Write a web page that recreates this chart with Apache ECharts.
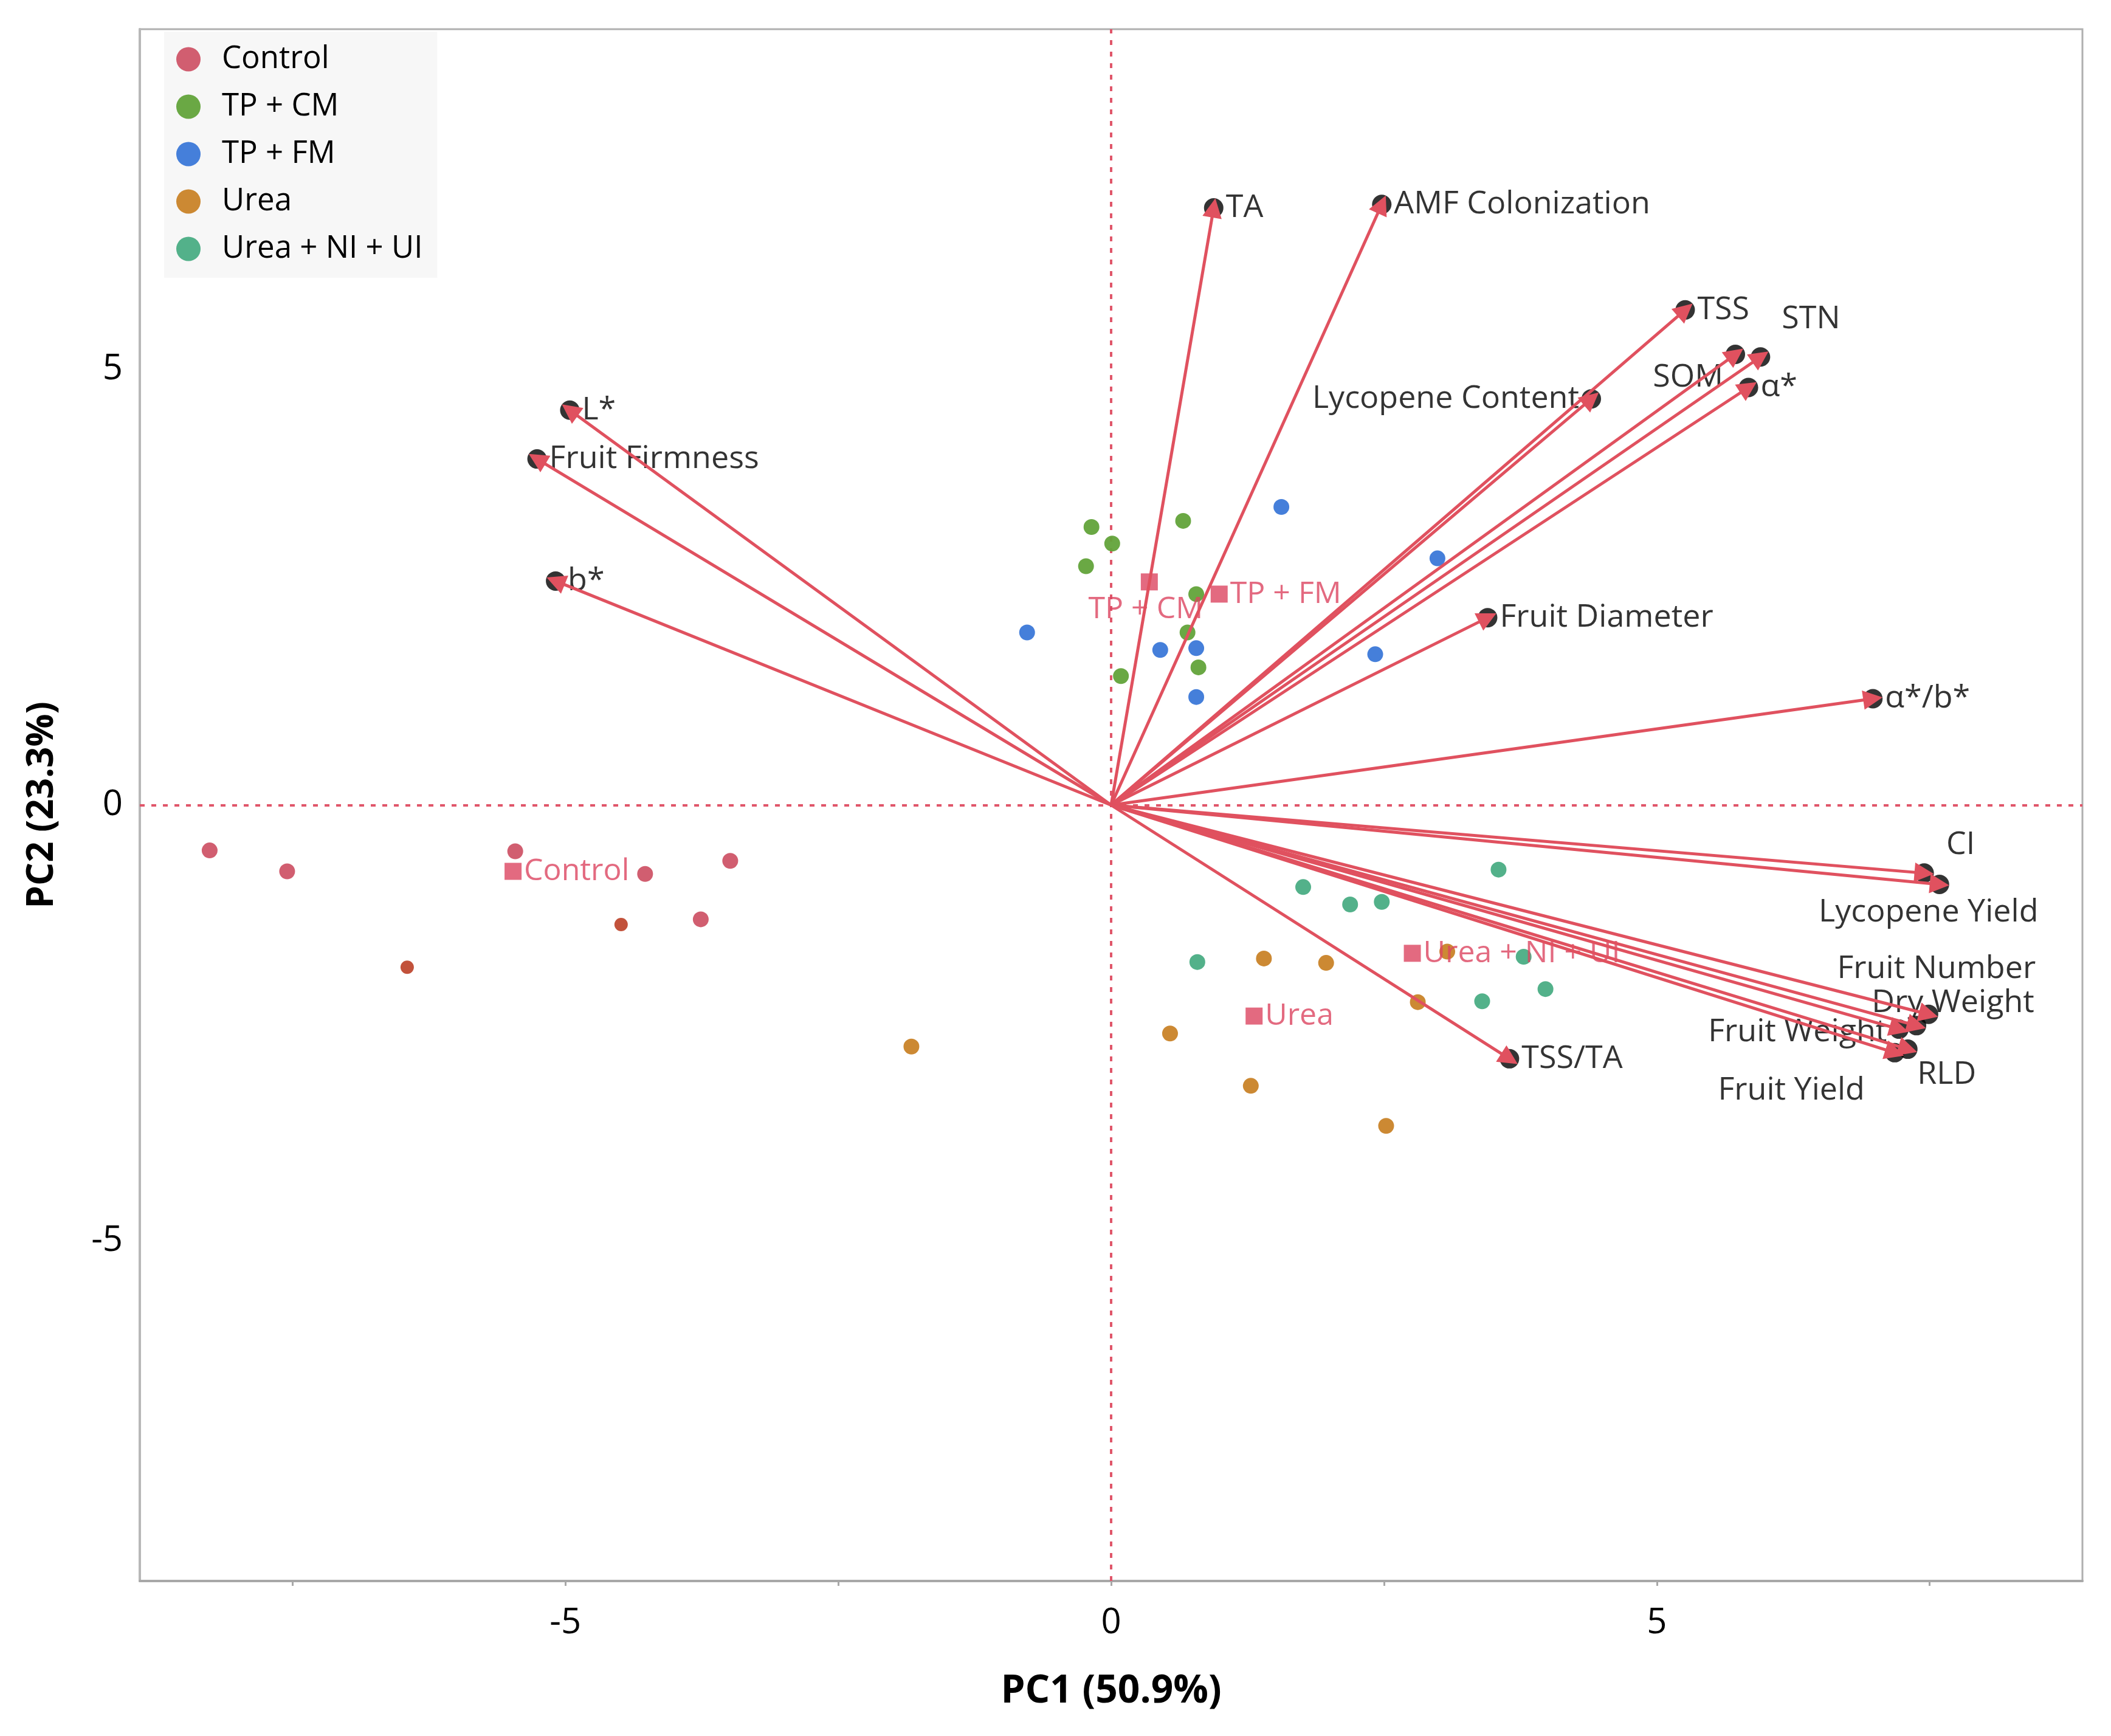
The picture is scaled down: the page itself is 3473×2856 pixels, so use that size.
<!DOCTYPE html>
<html>
<head>
  <meta charset="UTF-8">
  <title>PCA biplot</title>
  <script src="https://cdn.jsdelivr.net/npm/echarts@6.0.0/dist/echarts.min.js"></script>
  <style>
    html, body { margin: 0; padding: 0; background: #fff; }
    #main { width: 3473px; height: 2856px; }
  </style>
</head>
<body>
<div id="main"></div>
<script type="text/javascript">
  // group names (legend order)
  var groupNames = ['Control', 'TP + CM', 'TP + FM', 'Urea', 'Urea + NI + UI'];

  // sample scores [PC1, PC2]
  var controlPts = [[-8.26, -0.52], [-7.55, -0.76], [-5.46, -0.53], [-4.27, -0.79], [-3.49, -0.64], [-3.76, -1.31]];
  var controlDarkPts = [[-4.49, -1.37], [-6.45, -1.86]];
  var tpcmPts = [[-0.18, 3.19], [0.66, 3.26], [0.01, 3.00], [-0.23, 2.74], [0.78, 2.42], [0.70, 1.98], [0.80, 1.58], [0.09, 1.48]];
  var tpfmPts = [[1.56, 3.42], [2.99, 2.83], [2.42, 1.73], [0.45, 1.78], [0.78, 1.80], [0.78, 1.24], [-0.77, 1.98]];
  var ureaPts = [[1.40, -1.76], [1.97, -1.81], [3.08, -1.68], [2.81, -2.26], [0.54, -2.62], [1.28, -3.22], [2.52, -3.68], [-1.83, -2.77]];
  var ureaNiUiPts = [[3.55, -0.74], [1.76, -0.94], [2.19, -1.14], [2.48, -1.11], [0.79, -1.80], [3.78, -1.74], [3.98, -2.11], [3.40, -2.25]];

  // group centroids
  var centroidX = [-5.48, 0.35, 0.99, 1.31, 2.76];
  var centroidY = [-0.76, 2.56, 2.42, -2.42, -1.70];

  // variable loadings (arrow tips)
  var varNames = ['L*', 'Fruit Firmness', 'b*', 'TA', 'AMF Colonization', 'TSS', 'STN', 'SOM', 'α*',
    'Lycopene Content', 'Fruit Diameter', 'α*/b*', 'CI', 'Lycopene Yield', 'Fruit Number', 'Dry Weight',
    'Fruit Weight', 'RLD', 'Fruit Yield', 'TSS/TA'];
  var varX = [-4.96, -5.26, -5.09, 0.94, 2.48, 5.26, 5.95, 5.72, 5.84,
    4.40, 3.45, 6.98, 7.45, 7.59, 7.49, 7.38,
    7.22, 7.30, 7.18, 3.65];
  var varY = [4.53, 3.97, 2.57, 6.85, 6.89, 5.68, 5.14, 5.17, 4.79,
    4.66, 2.15, 1.22, -0.78, -0.91, -2.40, -2.53,
    -2.57, -2.80, -2.84, -2.91];

  var axisMin = -8.9, axisMax = 8.9;
  var tickLabels = [-5, 0, 5];
  var xMinorTicks = [-7.5, -5, -2.5, 0, 2.5, 5, 7.5];

  // label placement for the variable names
  var varLabelPlace = {
    'STN': { position: 'right', offset: [15, -62] },
    'SOM': { position: 'left', offset: [0, 38] },
    'Lycopene Content': { position: 'left' },
    'CI': { position: 'top', offset: [60, 0] },
    'Lycopene Yield': { position: 'bottom', offset: [-18, 0] },
    'Fruit Number': { position: 'top', offset: [13, -29] },
    'Dry Weight': { position: 'top', offset: [60, 9] },
    'Fruit Weight': { position: 'left', offset: [0, 5] },
    'RLD': { position: 'bottom', offset: [64, -4] },
    'Fruit Yield': { position: 'bottom', offset: [-170, 16] }
  };
  var centroidLabelPlace = {
    'TP + CM': { position: 'bottom', offset: [-6, 2] }
  };

  var groupColors = ['#cf5568', '#62a33a', '#3b78d8', '#c98328', '#4aad84'];
  var arrowColor = '#e0515f';
  var centroidColor = '#dc4560';
  var fontFam = '"Open Sans", "Noto Sans", sans-serif';

  var groupData = [controlPts, tpcmPts, tpfmPts, ureaPts, ureaNiUiPts];

  var series = [];
  groupNames.forEach(function(name, i) {
    series.push({
      name: name,
      type: 'scatter',
      data: groupData[i],
      symbolSize: 26,
      itemStyle: { color: groupColors[i], opacity: 0.95 },
      z: 2
    });
  });
  series.push({
    name: 'Control-dark',
    type: 'scatter',
    data: controlDarkPts,
    symbolSize: 22,
    itemStyle: { color: '#b3270a' },
    z: 2
  });

  // centroids
  series.push({
    name: 'centroids',
    type: 'scatter',
    symbol: 'rect',
    symbolSize: 28,
    itemStyle: { color: centroidColor },
    z: 3,
    label: {
      show: true, position: 'right', distance: 4, color: centroidColor,
      fontSize: 50, fontFamily: fontFam, formatter: '{b}'
    },
    data: groupNames.map(function(n, i) {
      var d = { name: n, value: [centroidX[i], centroidY[i]] };
      if (centroidLabelPlace[n]) d.label = centroidLabelPlace[n];
      return d;
    })
  });

  // black dots at tips + labels, also carries the zero lines
  series.push({
    name: 'vars',
    type: 'scatter',
    symbolSize: 32,
    itemStyle: { color: '#000' },
    z: 3,
    label: {
      show: true, position: 'right', distance: 4, color: '#000',
      fontSize: 52, fontFamily: fontFam, formatter: '{b}'
    },
    data: varNames.map(function(n, i) {
      var d = { name: n, value: [varX[i], varY[i]] };
      if (varLabelPlace[n]) d.label = varLabelPlace[n];
      return d;
    }),
    markLine: {
      silent: true,
      symbol: 'none',
      label: { show: false },
      lineStyle: { color: '#e0566a', type: [8, 11], width: 4 },
      z: 1,
      data: [{ xAxis: 0 }, { yAxis: 0 }]
    }
  });

  // arrows from origin
  series.push({
    name: 'arrows',
    type: 'lines',
    coordinateSystem: 'cartesian2d',
    symbol: ['none', 'triangle'],
    symbolSize: 32,
    z: 4,
    lineStyle: { color: arrowColor, width: 5, opacity: 1 },
    data: varNames.map(function(n, i) {
      return { coords: [[0, 0], [varX[i], varY[i]]] };
    })
  });

  var option = {
    animation: false,
    backgroundColor: '#fff',
    grid: {
      left: 230, right: 47, top: 48, bottom: 255,
      show: true, borderColor: '#b0b0b0', borderWidth: 3
    },
    legend: {
      data: groupNames,
      orient: 'vertical',
      left: 270, top: 52,
      padding: [20, 24, 22, 20],
      backgroundColor: '#f7f7f7',
      icon: 'circle',
      itemWidth: 40, itemHeight: 40, itemGap: 27,
      textStyle: { fontSize: 51, fontFamily: fontFam, color: '#000', padding: [0, 0, 0, 30] }
    },
    xAxis: {
      type: 'value',
      min: axisMin, max: axisMax,
      name: 'PC1 (50.9%)',
      nameLocation: 'middle',
      nameGap: 150,
      nameTextStyle: { fontSize: 64, fontWeight: 'bold', fontFamily: fontFam, color: '#000' },
      splitLine: { show: false },
      axisLine: { show: true, onZero: false, lineStyle: { color: '#a8a8a8', width: 4 } },
      axisTick: { show: true, customValues: xMinorTicks, length: 8, lineStyle: { color: '#a8a8a8', width: 3 } },
      axisLabel: { customValues: tickLabels, fontSize: 58, fontFamily: fontFam, color: '#000', margin: 40 }
    },
    yAxis: {
      type: 'value',
      min: axisMin, max: axisMax,
      name: 'PC2 (23.3%)',
      nameLocation: 'middle',
      nameGap: 130,
      nameTextStyle: { fontSize: 60, fontWeight: 'bold', fontFamily: fontFam, color: '#000' },
      splitLine: { show: false },
      axisLine: { show: true, onZero: false, lineStyle: { color: '#b8b8b8', width: 4 } },
      axisTick: { show: false },
      axisLabel: { customValues: tickLabels, fontSize: 58, fontFamily: fontFam, color: '#000', margin: 28 }
    },
    series: series
  };

  var myChart = echarts.init(document.getElementById('main'));
  myChart.setOption(option);
</script>
</body>
</html>
